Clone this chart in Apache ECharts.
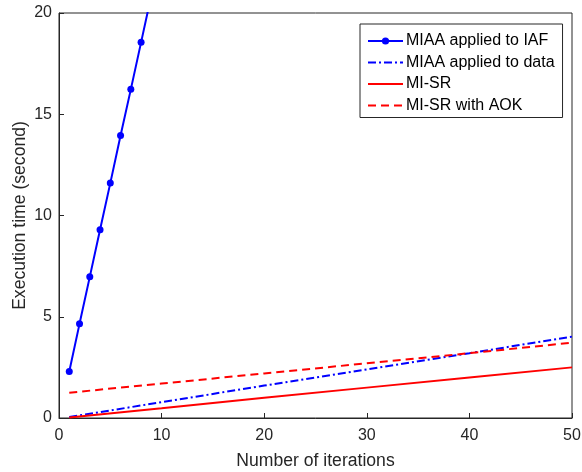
<!DOCTYPE html>
<html><head><meta charset="utf-8">
<script src="https://cdn.jsdelivr.net/npm/echarts@6/dist/echarts.min.js"></script>
<style>html,body{margin:0;padding:0;background:#fff}#c{width:582px;height:472px}</style>
</head><body><div id="c"></div>
<script>
// Data
const xTicks = [0, 10, 20, 30, 40, 50];
const yTicks = [0, 5, 10, 15, 20];
const iafX = [1, 2, 3, 4, 5, 6, 7, 8, 9];
const iafY = [2.3, 4.65, 6.97, 9.3, 11.6, 13.95, 16.23, 18.55, 20.88];
const lineX = [1, 10, 20, 30, 40, 50];
const miaaDataY = [0.05, 0.78, 1.6, 2.4, 3.2, 4.02];
const misrY = [0.03, 0.48, 1.0, 1.5, 2.0, 2.5];
const misrAokY = [1.25, 1.7, 2.2, 2.7, 3.2, 3.72];
const names = ['MIAA applied to IAF', 'MIAA applied to data', 'MI-SR', 'MI-SR with AOK'];

const pair = (xs, ys) => xs.map((x, i) => [x, ys[i]]);
const axisCol = '#262626';
const font = 'Liberation Sans, Arial, Helvetica, sans-serif';

const chart = echarts.init(document.getElementById('c'), null, {renderer: 'canvas'});
chart.setOption({
  animation: false,
  grid: {left: 59, right: 10, top: 13, bottom: 54, show: true, borderColor: axisCol, borderWidth: 1,
         backgroundColor: '#fff', containLabel: false, outerBoundsMode: 'none'},
  legend: {
    orient: 'vertical', left: 360, top: 24,
    backgroundColor: '#fff', borderColor: axisCol, borderWidth: 1,
    padding: [9, 8, 4, 7], itemGap: 5.5, itemWidth: 35, itemHeight: 9,
    textStyle: {fontFamily: font, fontSize: 16, color: '#000', padding: [0, 0, 0, -2]},
    data: [
      {name: names[0]},
      {name: names[1], itemStyle: {opacity: 0}},
      {name: names[2], itemStyle: {opacity: 0}},
      {name: names[3], itemStyle: {opacity: 0}}
    ]
  },
  xAxis: {
    type: 'value', min: 0, max: 50, interval: 10,
    name: 'Number of iterations', nameLocation: 'middle', nameGap: 34, nameMoveOverlap: false,
    nameTextStyle: {fontFamily: font, fontSize: 17.6, color: axisCol},
    axisLine: {show: true, onZero: false, lineStyle: {color: axisCol}},
    axisTick: {show: true, inside: true, length: 5, lineStyle: {color: axisCol}},
    axisLabel: {fontFamily: font, fontSize: 16, color: axisCol, margin: 10},
    splitLine: {show: false}
  },
  yAxis: {
    type: 'value', min: 0, max: 20, interval: 5,
    name: 'Execution time (second)', nameLocation: 'middle', nameGap: 30, nameMoveOverlap: false,
    nameTextStyle: {fontFamily: font, fontSize: 17.6, color: axisCol},
    axisLine: {show: true, lineStyle: {color: axisCol}},
    axisTick: {show: true, inside: true, length: 5, lineStyle: {color: axisCol}},
    axisLabel: {fontFamily: font, fontSize: 16, color: axisCol, margin: 7},
    splitLine: {show: false}
  },
  series: [
    {name: names[0], type: 'line', data: pair(iafX, iafY), color: '#0000ff',
     symbol: 'circle', symbolSize: 7, showAllSymbol: true,
     lineStyle: {width: 2, color: '#0000ff'}, itemStyle: {color: '#0000ff'}, clip: true},
    {name: names[1], type: 'line', data: pair(lineX, miaaDataY), color: '#0000ff',
     symbol: 'none', lineStyle: {width: 2, color: '#0000ff', type: [8, 3, 2, 3]}, clip: true},
    {name: names[2], type: 'line', data: pair(lineX, misrY), color: '#ff0000',
     symbol: 'none', lineStyle: {width: 2, color: '#ff0000'}, clip: true},
    {name: names[3], type: 'line', data: pair(lineX, misrAokY), color: '#ff0000',
     symbol: 'none', lineStyle: {width: 2, color: '#ff0000', type: [8, 5]}, clip: true}
  ]
});
</script></body></html>
